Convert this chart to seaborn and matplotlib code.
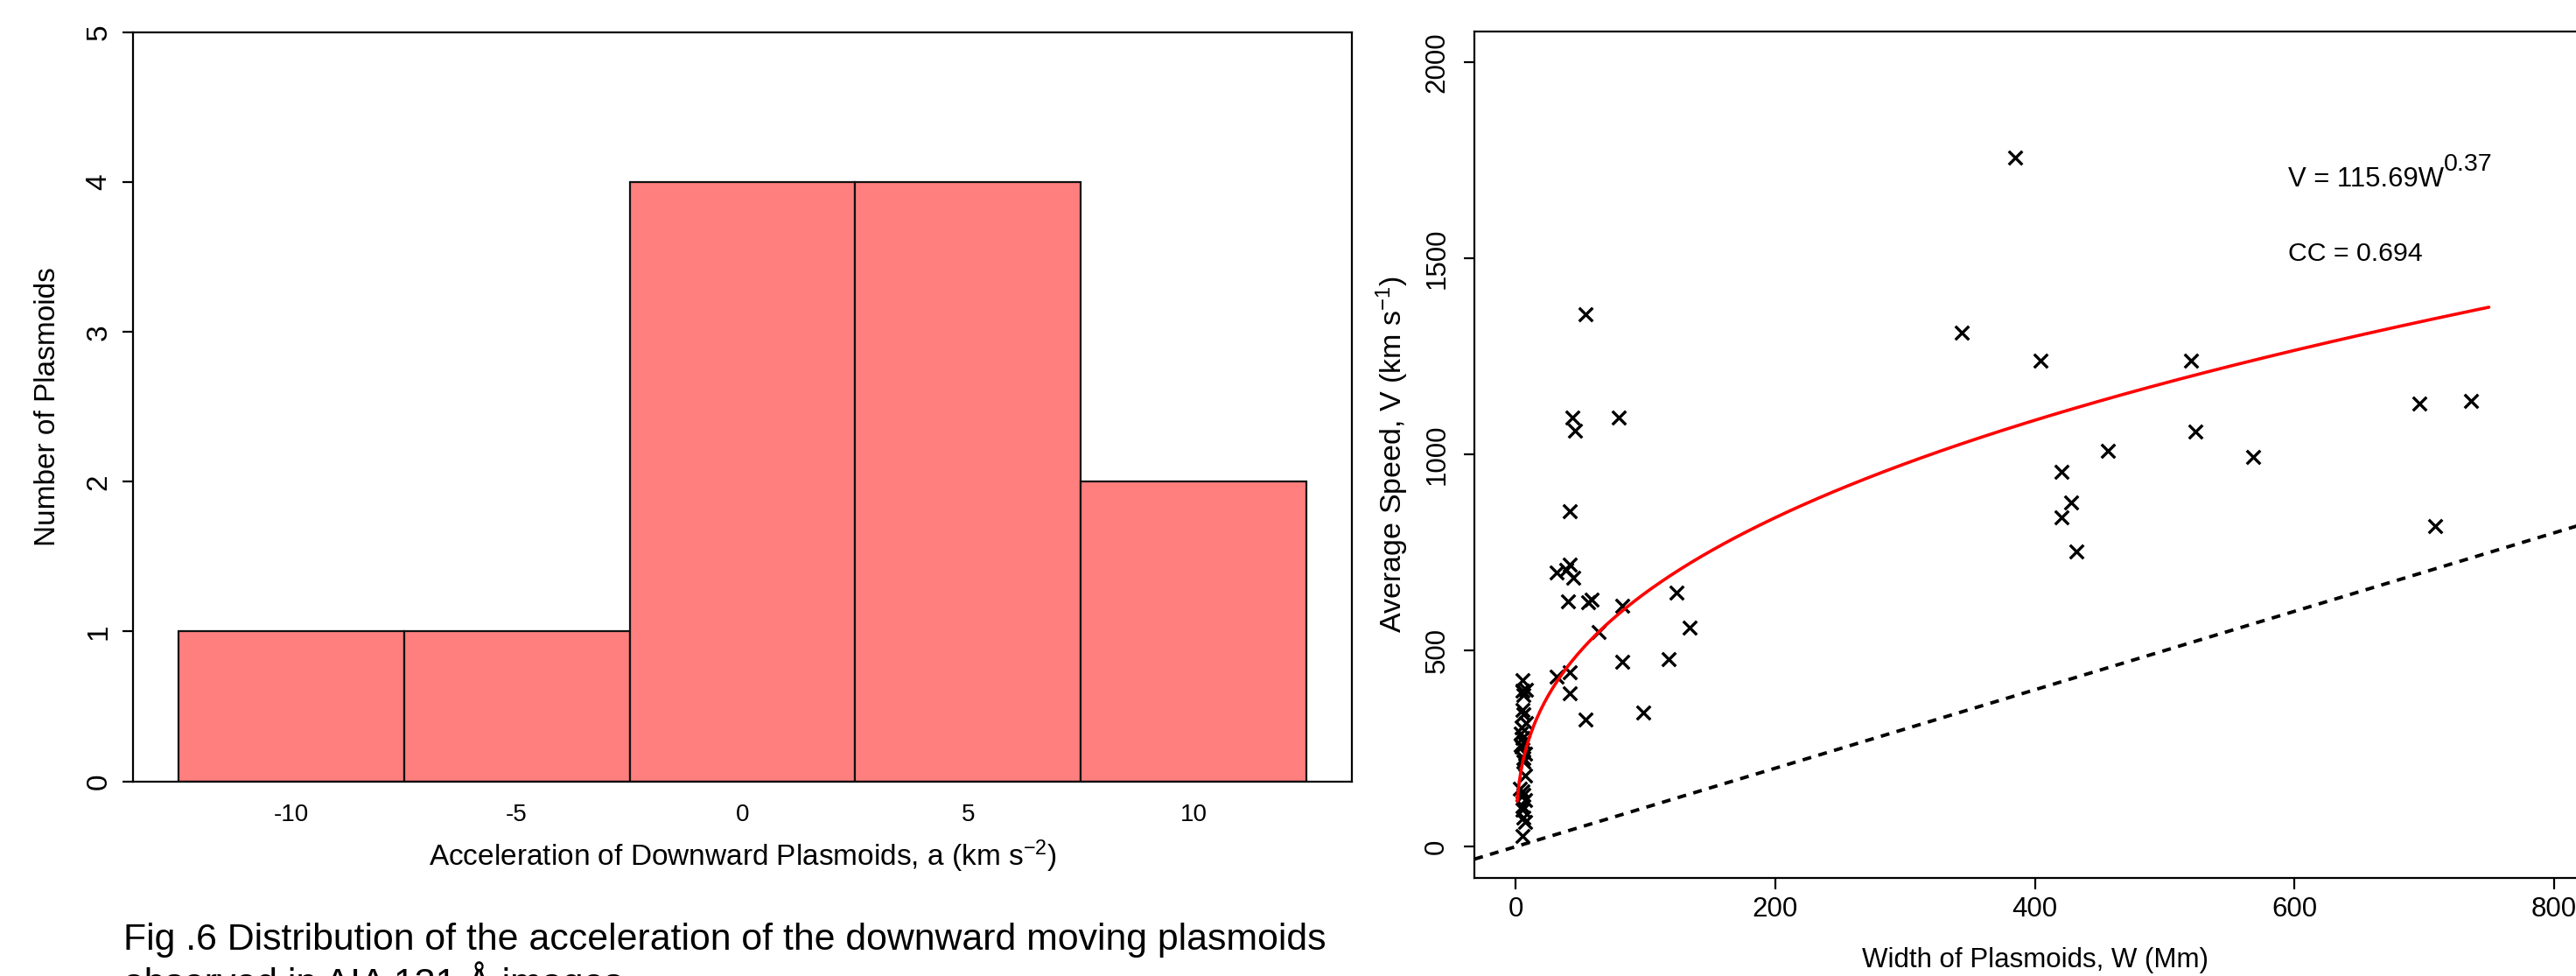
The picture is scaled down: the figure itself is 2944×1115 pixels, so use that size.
import numpy as np
import pandas as pd
import matplotlib
matplotlib.use("Agg")
import matplotlib.pyplot as plt
import seaborn as sns

# ---------------- data ----------------
# Left panel: histogram of downward plasmoid accelerations (counts per 5 km s^-2 bin)
accel_bin_edges = [-12.5, -7.5, -2.5, 2.5, 7.5, 12.5]
accel_bin_centers = [-10, -5, 0, 5, 10]
accel_counts = [1, 1, 4, 4, 2]
hist_xticks = [-10, -5, 0, 5, 10]
hist_yticks = [0, 1, 2, 3, 4, 5]

# Right panel: width vs average speed of plasmoids
width_mm = [
    5, 5, 6, 5, 6, 8, 4.5, 4, 5, 6, 4.5, 7, 6, 7, 3, 6, 7, 5, 6, 7, 5, 8, 4, 5, 5, 6,
    31.7, 38.5, 41.8, 44.1, 40, 56, 58.2, 81.9, 124, 63.9, 134, 81.9, 117.9,
    31.7, 41.8, 41.8, 53.8, 98,
    53.8, 43.6, 79.6, 45.9, 41.8,
    344, 384.8, 404.4, 520.2, 523.8, 456.4, 568.2, 420.4, 428.3, 420.4, 432,
    696.4, 736.2, 708.3,
]
speed_kms = [
    425, 397, 386, 348, 337, 315, 304, 289, 278, 266, 255, 237, 218, 181, 147, 132, 118, 103, 73, 62, 28, 399, 260, 140, 95, 225,
    700, 706, 719, 685, 626, 623, 630, 615, 648, 547, 559, 471, 478,
    433, 445, 392, 325, 341,
    1358, 1095, 1095, 1061, 855,
    1311, 1757, 1240, 1240, 1058, 1010, 993, 957, 877, 841, 753,
    1130, 1136, 817,
]
xticks_w = [0, 200, 400, 600, 800]
yticks_v = [0, 500, 1000, 1500, 2000]

# power-law fit V = a * W^b  (label shows rounded exponent)
fit_coef = 115.69
fit_exp = 0.374
fit_w_min, fit_w_max = 1, 750
ref_slope = 1.0  # V = W reference line

# ---------------- style ----------------
sns.set_theme(style="ticks")
plt.rcParams['font.family'] = ['Liberation Sans', 'DejaVu Sans']
plt.rcParams['axes.unicode_minus'] = False
plt.rcParams['mathtext.fontset'] = 'custom'
plt.rcParams['mathtext.rm'] = 'Liberation Sans'
plt.rcParams['mathtext.it'] = 'Liberation Sans:italic'
plt.rcParams['mathtext.bf'] = 'Liberation Sans:bold'

W, H = 2944, 1115
fig = plt.figure(figsize=(W / 100, H / 100), dpi=100)
fig.patch.set_facecolor('white')

# axes positions (pixel-derived)
l1, r1, t1, b1 = 152, 1545, 37, 892.6
l2, r2, t2, b2 = 1685, 2966, 35.6, 1003
ax1 = fig.add_axes([l1 / W, 1 - b1 / H, (r1 - l1) / W, (b1 - t1) / H])
ax2 = fig.add_axes([l2 / W, 1 - b2 / H, (r2 - l2) / W, (b2 - t2) / H])

for ax in (ax1, ax2):
    ax.set_facecolor('white')
    for s in ax.spines.values():
        s.set_visible(True)
        s.set_color('black')
        s.set_linewidth(1.6)

# ---------------- left: histogram ----------------
sns.histplot(x=accel_bin_centers, weights=accel_counts, bins=accel_bin_edges,
             color='#FF7F7F', alpha=1.0, edgecolor='#111111', linewidth=1.6, ax=ax1)
ax1.set_xlim(-13.5, 13.5)
ax1.set_ylim(0, 5)
ax1.set_xticks(hist_xticks)
ax1.set_xticklabels([str(v) for v in hist_xticks])
ax1.set_yticks(hist_yticks)
ax1.set_yticklabels([str(v) for v in hist_yticks])
ax1.tick_params(axis='x', length=0, labelsize=20, pad=18, colors='black')
ax1.tick_params(axis='y', length=9, width=1.6, labelsize=24, pad=8, labelrotation=90, colors='black')
for lab in ax1.get_yticklabels():
    lab.set_va('center')
ax1.set_xlabel("Acceleration of Downward Plasmoids, a (km s$^{-2}$)", fontsize=24, color='black')
ax1.set_ylabel("Number of Plasmoids", fontsize=24, color='black')
ax1.xaxis.label.set_va('center')
ax1.xaxis.set_label_coords(0.5, (b1 - 978) / (b1 - t1))
ax1.yaxis.label.set_va('center')
ax1.yaxis.set_label_coords((55 - l1) / (r1 - l1), 0.5)

# ---------------- right: scatter ----------------
df = pd.DataFrame({'W': width_mm, 'V': speed_kms})
sns.scatterplot(data=df, x='W', y='V', marker='x', color='black', s=125, linewidth=2.4, ax=ax2)

w_fit = np.linspace(fit_w_min, fit_w_max, 500)
v_fit = fit_coef * w_fit ** fit_exp
sns.lineplot(x=w_fit, y=v_fit, color='red', linewidth=2.6, ax=ax2)
ax2.axline((0, 0), slope=ref_slope, color='black', linewidth=2.8, linestyle=(0, (2.6, 2.2)))

ax2.set_xlim(-32, 832)
ax2.set_ylim(-80, 2080)
ax2.set_xticks(xticks_w)
ax2.set_xticklabels([str(v) for v in xticks_w])
ax2.set_yticks(yticks_v)
ax2.set_yticklabels([str(v) for v in yticks_v])
ax2.tick_params(axis='x', length=9, width=1.6, labelsize=22.5, pad=6, colors='black')
ax2.tick_params(axis='y', length=9, width=1.6, labelsize=22.5, pad=11, labelrotation=90, colors='black')
for lab in ax2.get_yticklabels():
    lab.set_va('center')
ax2.set_xlabel("Width of Plasmoids, W (Mm)", fontsize=22.5, color='black')
ax2.set_ylabel("Average Speed, V (km s$^{-1}$)", fontsize=24.5, color='black')
ax2.xaxis.label.set_va('center')
ax2.xaxis.set_label_coords(0.5, (b2 - 1096.7) / (b2 - t2))
ax2.yaxis.label.set_va('center')
ax2.yaxis.set_label_coords((1591.7 - l2) / (r2 - l2), 0.5)

t_eq = ax2.text(595, 1683, "V = 115.69W", fontsize=22.3, ha='left', va='baseline', color='black')
ax2.annotate("0.37", xy=(1, 0), xycoords=t_eq, xytext=(0.5, 18), textcoords='offset points',
             fontsize=20.5, ha='left', va='baseline', color='black')
ax2.text(595, 1495, "CC = 0.694", fontsize=21.8, ha='left', va='baseline', color='black')

# ---------------- caption ----------------
fig.text(141 / W, 1 - 1085 / H,
         "Fig .6 Distribution of the acceleration of the downward moving plasmoids",
         fontsize=30.8, ha='left', va='baseline', color='black')
fig.text(141 / W, 1 - 1136 / H, "observed in AIA 131 Å images",
         fontsize=30.8, ha='left', va='baseline', color='black')

fig.savefig("out.png", dpi=100, facecolor='white')
